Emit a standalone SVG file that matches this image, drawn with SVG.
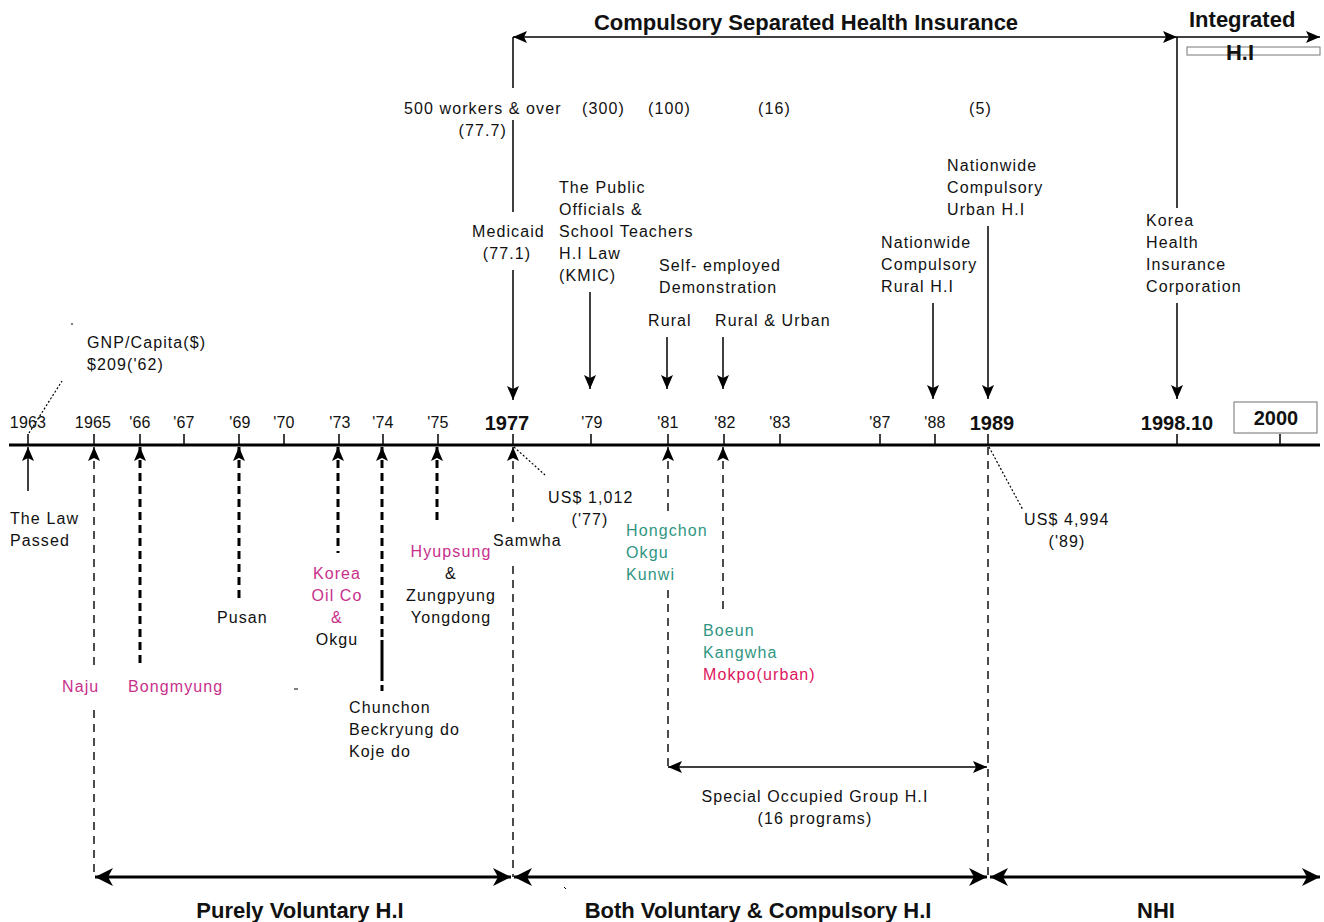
<svg xmlns="http://www.w3.org/2000/svg" width="1324" height="922" viewBox="0 0 1324 922">
  <style>
    text { font-family: "Liberation Sans", Arial, sans-serif; font-size: 16px; fill: #111; letter-spacing: 1.1px; }
    .yr { font-size: 16px; letter-spacing: 0.2px; }
    .yb { font-size: 20px; font-weight: bold; letter-spacing: 0; }
    .ttl { font-size: 22px; font-weight: bold; letter-spacing: 0; }
    .per { font-size: 22px; font-weight: bold; letter-spacing: 0; }
    .mg { fill: #c8308c; }
    .tl { fill: #2f9682; }
    .cr { fill: #dc1660; }
    .mid { text-anchor: middle; }
    .end { text-anchor: end; }
    line, path { stroke: #000; fill: none; }
    .s { stroke-width: 1.5; }
    .main { stroke-width: 3; }
    .thick { stroke-width: 3; }
    .dk { stroke-width: 3; stroke-dasharray: 8 5; }
    .dt { stroke-width: 1.4; stroke-dasharray: 8 6; }
    .dot { stroke-width: 1.2; stroke-dasharray: 2 2; }
    .tick { stroke-width: 1.5; }
    .ar { marker-end: url(#ah); }
    .al { marker-start: url(#ah); }
    .big { marker-start: url(#ahb); marker-end: url(#ahb); }
  </style>
  <defs>
    <marker id="ah" viewBox="0 0 14 12" refX="14" refY="6" markerWidth="14" markerHeight="12" markerUnits="userSpaceOnUse" orient="auto-start-reverse">
      <path d="M0,0 L14,6 L0,12 L3,6 z" style="fill:#000;stroke:none"/>
    </marker>
    <marker id="ahb" viewBox="0 0 18 18" refX="18" refY="9" markerWidth="18" markerHeight="18" markerUnits="userSpaceOnUse" orient="auto-start-reverse">
      <path d="M0,0 L18,9 L0,18 L5,9 z" style="fill:#000;stroke:none"/>
    </marker>
  </defs>

  <!-- timeline axis with year ticks -->
  <g id="axis">
    <line class="main" x1="9" y1="445" x2="1320" y2="445"/>
    <g class="ticks">
      <line class="tick" x1="28" y1="434" x2="28" y2="445"/>
      <line class="tick" x1="94" y1="434" x2="94" y2="445"/>
      <line class="tick" x1="140" y1="434" x2="140" y2="445"/>
      <line class="tick" x1="184" y1="434" x2="184" y2="445"/>
      <line class="tick" x1="239" y1="434" x2="239" y2="445"/>
      <line class="tick" x1="284" y1="434" x2="284" y2="445"/>
      <line class="tick" x1="339" y1="434" x2="339" y2="445"/>
      <line class="tick" x1="383" y1="434" x2="383" y2="445"/>
      <line class="tick" x1="438" y1="434" x2="438" y2="445"/>
      <line class="tick" x1="513" y1="434" x2="513" y2="445"/>
      <line class="tick" x1="591" y1="434" x2="591" y2="445"/>
      <line class="tick" x1="668" y1="434" x2="668" y2="445"/>
      <line class="tick" x1="724" y1="434" x2="724" y2="445"/>
      <line class="tick" x1="780" y1="434" x2="780" y2="445"/>
      <line class="tick" x1="880" y1="434" x2="880" y2="445"/>
      <line class="tick" x1="935" y1="434" x2="935" y2="445"/>
      <line class="tick" x1="988" y1="434" x2="988" y2="445"/>
      <line class="tick" x1="1177" y1="434" x2="1177" y2="445"/>
      <line class="tick" x1="1280" y1="434" x2="1280" y2="445"/>
    </g>
    <g class="years">
      <text class="yr mid" x="28" y="428">1963</text>
      <text class="yr mid" x="93" y="428">1965</text>
      <text class="yr mid" x="140" y="428">'66</text>
      <text class="yr mid" x="184" y="428">'67</text>
      <text class="yr mid" x="240" y="428">'69</text>
      <text class="yr mid" x="284" y="428">'70</text>
      <text class="yr mid" x="340" y="428">'73</text>
      <text class="yr mid" x="383" y="428">'74</text>
      <text class="yr mid" x="438" y="428">'75</text>
      <text class="yb mid" x="507" y="430">1977</text>
      <text class="yr mid" x="592" y="428">'79</text>
      <text class="yr mid" x="668" y="428">'81</text>
      <text class="yr mid" x="725" y="428">'82</text>
      <text class="yr mid" x="780" y="428">'83</text>
      <text class="yr mid" x="880" y="428">'87</text>
      <text class="yr mid" x="935" y="428">'88</text>
      <text class="yb mid" x="992" y="430">1989</text>
      <text class="yb mid" x="1177" y="430">1998.10</text>
    </g>
    <g id="y2000">
      <rect x="1234" y="402" width="83" height="31" style="fill:#fff;stroke:#888;stroke-width:1.2"/>
      <text class="yb mid" x="1276" y="425">2000</text>
    </g>
  </g>

  <!-- connectors: arrows, dashed leaders and period spans -->
  <g id="connectors">
    <!-- period arrows at the top -->
    <line class="s al ar" x1="513" y1="37" x2="1177" y2="37"/>
    <line class="s ar" x1="1177" y1="37" x2="1320" y2="37"/>
    <line class="s" x1="513" y1="37" x2="513" y2="88"/>
    <line class="s" x1="513" y1="120" x2="513" y2="212"/>
    <line class="s ar" x1="513" y1="270" x2="513" y2="400"/>
    <line class="s" x1="1177" y1="37" x2="1177" y2="208"/>
    <line class="s ar" x1="1177" y1="303" x2="1177" y2="399"/>
    <!-- downward event arrows -->
    <line class="s ar" x1="590" y1="292" x2="590" y2="389"/>
    <line class="s ar" x1="667" y1="337" x2="667" y2="389"/>
    <line class="s ar" x1="723" y1="337" x2="723" y2="389"/>
    <line class="s ar" x1="933" y1="303" x2="933" y2="399"/>
    <line class="s ar" x1="988" y1="226" x2="988" y2="399"/>
    <!-- upward event arrows below the axis -->
    <line class="s al" x1="28" y1="447" x2="28" y2="491"/>
    <line class="dt al" x1="94" y1="447" x2="94" y2="667"/>
    <line class="dt" x1="94" y1="710" x2="94" y2="877"/>
    <line class="dk al" x1="140" y1="447" x2="140" y2="668"/>
    <line class="dk al" x1="239" y1="447" x2="239" y2="600"/>
    <line class="dk al" x1="338" y1="447" x2="338" y2="553"/>
    <line class="dk al" x1="382" y1="447" x2="382" y2="640"/>
    <line class="thick" x1="382" y1="640" x2="382" y2="681"/>
    <line class="thick" x1="382" y1="685" x2="382" y2="691"/>
    <line class="dk al" x1="437" y1="447" x2="437" y2="522"/>
    <line class="dt al" x1="513" y1="447" x2="513" y2="522"/>
    <line class="dt" x1="513" y1="566" x2="513" y2="877"/>
    <line class="dt al" x1="668" y1="447" x2="668" y2="512"/>
    <line class="dt" x1="668" y1="590" x2="668" y2="768"/>
    <line class="dt al" x1="723" y1="447" x2="723" y2="612"/>
    <line class="dt" x1="988" y1="447" x2="988" y2="877"/>
    <!-- dotted GNP leaders -->
    <line class="dot" x1="29" y1="433" x2="62" y2="381"/>
    <line class="dot" x1="514" y1="447" x2="545" y2="475"/>
    <line class="dot" x1="989" y1="447" x2="1023" y2="510"/>
    <!-- special occupied group span -->
    <line class="s al ar" x1="668" y1="767" x2="987" y2="767"/>
    <!-- period spans at the bottom -->
    <line class="thick big" x1="95" y1="877" x2="511" y2="877"/>
    <line class="thick big" x1="514" y1="877" x2="987" y2="877"/>
    <line class="thick big" x1="990" y1="877" x2="1320" y2="877"/>
    <!-- stray marks -->
    <line style="stroke-width:1" x1="71" y1="324" x2="73" y2="324"/>
    <line style="stroke-width:1" x1="294" y1="689" x2="298" y2="689"/>
    <line style="stroke-width:1" x1="564" y1="887" x2="566" y2="889"/>
  </g>

  <!-- period titles -->
  <g id="compulsory-title"><text class="ttl mid" x="806" y="30">Compulsory Separated Health Insurance</text></g>
  <g id="integrated-title">
    <text class="per" x="1189" y="27">Integrated</text>
    <rect x="1187" y="47" width="133" height="8" style="fill:#fff;stroke:#777;stroke-width:1"/>
    <text class="per mid" x="1240" y="60">H.I</text>
  </g>
  <g id="purely-voluntary"><text class="per mid" x="300" y="918">Purely Voluntary H.I</text></g>
  <g id="both"><text class="per mid" x="758" y="918">Both Voluntary &amp; Compulsory H.I</text></g>
  <g id="nhi"><text class="per mid" x="1156" y="918">NHI</text></g>

  <!-- enterprise size thresholds -->
  <g id="size-500"><text x="404" y="114">500 workers &amp; over</text><text class="end" x="507" y="136">(77.7)</text></g>
  <g id="size-300"><text x="582" y="114">(300)</text></g>
  <g id="size-100"><text x="648" y="114">(100)</text></g>
  <g id="size-16"><text x="758" y="114">(16)</text></g>
  <g id="size-5"><text x="969" y="114">(5)</text></g>

  <!-- events above the axis -->
  <g id="medicaid"><text x="472" y="237">Medicaid</text><text class="mid" x="507" y="259">(77.1)</text></g>
  <g id="kmic">
    <text x="559" y="193">The Public</text>
    <text x="559" y="215">Officials &amp;</text>
    <text x="559" y="237">School Teachers</text>
    <text x="559" y="259">H.I Law</text>
    <text x="559" y="281">(KMIC)</text>
  </g>
  <g id="self-employed"><text x="659" y="271">Self- employed</text><text x="659" y="293">Demonstration</text></g>
  <g id="rural"><text x="648" y="326">Rural</text></g>
  <g id="rural-urban"><text x="715" y="326">Rural &amp; Urban</text></g>
  <g id="nationwide-rural">
    <text x="881" y="248">Nationwide</text>
    <text x="881" y="270">Compulsory</text>
    <text x="881" y="292">Rural H.I</text>
  </g>
  <g id="nationwide-urban">
    <text x="947" y="171">Nationwide</text>
    <text x="947" y="193">Compulsory</text>
    <text x="947" y="215">Urban H.I</text>
  </g>
  <g id="khic">
    <text x="1146" y="226">Korea</text>
    <text x="1146" y="248">Health</text>
    <text x="1146" y="270">Insurance</text>
    <text x="1146" y="292">Corporation</text>
  </g>
  <g id="gnp-62"><text x="87" y="348">GNP/Capita($)</text><text x="87" y="370">$209('62)</text></g>

  <!-- events below the axis -->
  <g id="law"><text x="10" y="524">The Law</text><text x="10" y="546">Passed</text></g>
  <g id="naju"><text class="mg" x="62" y="692">Naju</text></g>
  <g id="bongmyung"><text class="mg" x="128" y="692">Bongmyung</text></g>
  <g id="pusan"><text x="217" y="623">Pusan</text></g>
  <g id="korea-oil">
    <text class="mg mid" x="337" y="579">Korea</text>
    <text class="mg mid" x="337" y="601">Oil Co</text>
    <text class="mg mid" x="337" y="623">&amp;</text>
    <text class="mid" x="337" y="645">Okgu</text>
  </g>
  <g id="chunchon">
    <text x="349" y="713">Chunchon</text>
    <text x="349" y="735">Beckryung do</text>
    <text x="349" y="757">Koje do</text>
  </g>
  <g id="hyupsung">
    <text class="mg mid" x="451" y="557">Hyupsung</text>
    <text class="mid" x="451" y="579">&amp;</text>
    <text class="mid" x="451" y="601">Zungpyung</text>
    <text class="mid" x="451" y="623">Yongdong</text>
  </g>
  <g id="samwha"><text x="493" y="546">Samwha</text></g>
  <g id="gnp-77"><text x="548" y="503">US$ 1,012</text><text class="mid" x="590" y="525">('77)</text></g>
  <g id="hongchon">
    <text class="tl" x="626" y="536">Hongchon</text>
    <text class="tl" x="626" y="558">Okgu</text>
    <text class="tl" x="626" y="580">Kunwi</text>
  </g>
  <g id="boeun">
    <text class="tl" x="703" y="636">Boeun</text>
    <text class="tl" x="703" y="658">Kangwha</text>
    <text class="cr" x="703" y="680">Mokpo(urban)</text>
  </g>
  <g id="gnp-89"><text x="1024" y="525">US$ 4,994</text><text class="mid" x="1067" y="547">('89)</text></g>
  <g id="special-group"><text class="mid" x="815" y="802">Special Occupied Group H.I</text><text class="mid" x="815" y="824">(16 programs)</text></g>
</svg>
